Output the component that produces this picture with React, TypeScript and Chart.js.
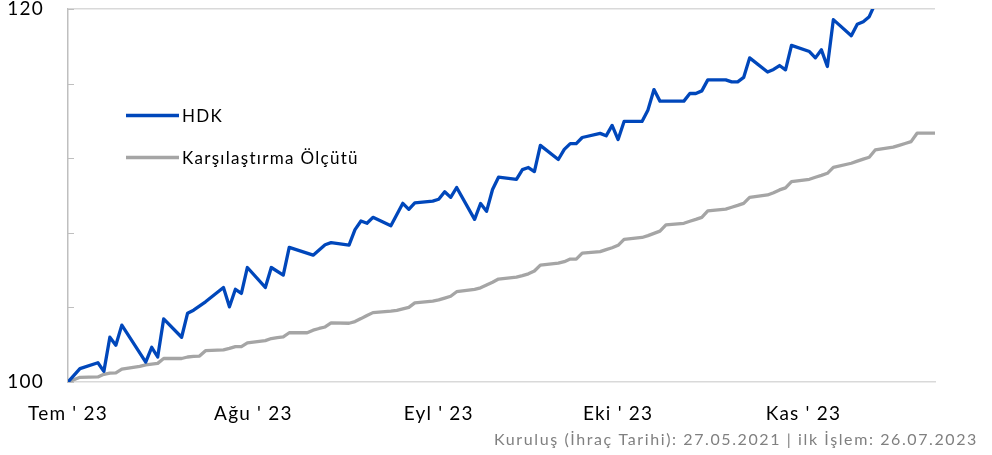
import React, { useEffect, useRef } from 'react';
import { Chart, registerables } from 'chart.js';

Chart.register(...registerables);

// Days since 26.07.2023 (first trading day shown)
const hdkDays = [0, 2, 5, 6, 7, 8, 9, 13, 14, 15, 16, 19, 20, 21, 23, 26, 27, 28, 29, 30, 33, 34, 36, 37, 41, 43, 44, 47, 48, 49, 50, 51, 54, 56, 57, 58, 61, 62, 63, 64, 65, 68, 69, 70, 71, 72, 75, 76, 77, 78, 79, 82, 83, 84, 85, 86, 89, 90, 91, 92, 93, 96, 97, 98, 99, 103, 104, 105, 106, 107, 110, 111, 112, 113, 114, 117, 118, 119, 120, 121, 124, 125, 126, 127, 128, 131, 132, 133, 134, 135, 138, 139, 140, 141, 142];
const hdkValues = [100.0, 100.72, 101.03, 100.57, 102.4, 101.97, 103.05, 101.07, 101.86, 101.34, 103.38, 102.4, 103.69, 103.85, 104.3, 105.07, 104.03, 104.97, 104.75, 106.14, 105.07, 106.14, 105.73, 107.22, 106.8, 107.36, 107.47, 107.34, 108.17, 108.63, 108.51, 108.83, 108.38, 109.58, 109.26, 109.6, 109.7, 109.8, 110.2, 109.9, 110.43, 108.72, 109.57, 109.15, 110.32, 110.98, 110.87, 111.39, 111.5, 111.28, 112.69, 111.93, 112.47, 112.78, 112.78, 113.11, 113.33, 113.2, 113.76, 113.0, 113.97, 113.97, 114.59, 115.68, 115.06, 115.06, 115.47, 115.47, 115.61, 116.2, 116.2, 116.09, 116.09, 116.33, 117.38, 116.62, 116.76, 116.97, 116.74, 118.05, 117.72, 117.38, 117.81, 116.92, 119.43, 118.57, 119.18, 119.32, 119.59, 120.3, 120.7, 120.6, 120.9, 121.1, 121.3];

const benchDays = [0, 2, 5, 6, 7, 8, 9, 12, 13, 14, 15, 16, 19, 20, 21, 22, 23, 26, 27, 28, 29, 30, 33, 34, 35, 36, 37, 40, 41, 42, 43, 44, 47, 48, 49, 50, 51, 54, 55, 56, 57, 58, 61, 62, 63, 64, 65, 68, 69, 70, 71, 72, 75, 76, 77, 78, 79, 82, 83, 84, 85, 86, 89, 90, 91, 92, 93, 96, 97, 98, 99, 100, 103, 104, 105, 106, 107, 110, 111, 112, 113, 114, 117, 118, 119, 120, 121, 124, 125, 126, 127, 128, 131, 132, 133, 134, 135, 138, 139, 140, 141, 142, 145];
const benchValues = [100.0, 100.25, 100.27, 100.41, 100.48, 100.49, 100.69, 100.84, 100.92, 100.96, 101.0, 101.26, 101.26, 101.34, 101.37, 101.39, 101.68, 101.72, 101.8, 101.9, 101.9, 102.1, 102.22, 102.33, 102.38, 102.42, 102.64, 102.64, 102.78, 102.87, 102.95, 103.17, 103.15, 103.24, 103.4, 103.57, 103.72, 103.8, 103.84, 103.92, 104.0, 104.24, 104.34, 104.4, 104.5, 104.6, 104.84, 104.97, 105.05, 105.2, 105.35, 105.52, 105.62, 105.7, 105.8, 105.95, 106.27, 106.37, 106.45, 106.59, 106.59, 106.91, 106.99, 107.1, 107.2, 107.33, 107.65, 107.75, 107.85, 107.97, 108.09, 108.42, 108.51, 108.62, 108.72, 108.83, 109.17, 109.27, 109.37, 109.47, 109.58, 109.9, 110.03, 110.15, 110.3, 110.41, 110.74, 110.87, 110.98, 111.08, 111.19, 111.51, 111.73, 111.84, 111.95, 112.05, 112.44, 112.59, 112.69, 112.79, 112.89, 113.34, 113.34];

const monthTickDays = [0, 31, 62, 92, 123];
const monthLabels = ["Tem ' 23", "Ağu ' 23", "Eyl ' 23", "Eki ' 23", "Kas ' 23"];
const yLabelValues = [100, 120];
const seriesNames = ['HDK', 'Karşılaştırma Ölçütü'];
const footerText = 'Kuruluş (İhraç Tarihi): 27.05.2021 | ilk İşlem: 26.07.2023';

const FONT = 'Lato, "Open Sans", sans-serif';

const overlayPlugin = {
  id: 'overlay',
  beforeDraw(chart: any) {
    chart.ctx.letterSpacing = '1.2px';
  },
  afterDraw(chart: any) {
    const { ctx, chartArea } = chart;
    ctx.letterSpacing = '0px';
    ctx.save();
    // y tick marks (inward)
    const yScale = chart.scales.y;
    ctx.strokeStyle = '#bfbfbf';
    ctx.lineWidth = 1;
    yScale.ticks.forEach((t: any) => {
      const py = Math.round(yScale.getPixelForValue(t.value)) + 0.5;
      ctx.beginPath();
      ctx.moveTo(chartArea.left - 1, py);
      ctx.lineTo(chartArea.left + 6, py);
      ctx.stroke();
    });
    // legend
    const legendYs = [chartArea.top + 106.5, chartArea.top + 148.5];
    chart.data.datasets.forEach((ds: any, i: number) => {
      const y = legendYs[i];
      ctx.strokeStyle = ds.borderColor;
      ctx.lineWidth = 3.3;
      ctx.lineCap = 'butt';
      ctx.beginPath();
      ctx.moveTo(chartArea.left + 58, y);
      ctx.lineTo(chartArea.left + 111, y);
      ctx.stroke();
      ctx.fillStyle = '#000000';
      ctx.font = `17px ${FONT}`;
      ctx.letterSpacing = '1.3px';
      ctx.textAlign = 'left';
      ctx.textBaseline = 'middle';
      ctx.fillText(ds.label, chartArea.left + 114, y + 1);
    });
    // footer
    ctx.fillStyle = '#808080';
    ctx.font = `16px ${FONT}`;
    ctx.letterSpacing = '1.6px';
    ctx.textAlign = 'left';
    ctx.textBaseline = 'alphabetic';
    const w = ctx.measureText(footerText).width;
    ctx.fillText(footerText, chart.width - 14 - w, chart.height - 10);
    ctx.restore();
  },
};

export default function App() {
  const canvasRef = useRef<HTMLCanvasElement | null>(null);

  useEffect(() => {
    document.body.style.margin = '0';
    const canvas = canvasRef.current;
    if (!canvas) return;
    const chart = new Chart(canvas, {
      type: 'line',
      data: {
        datasets: [
          {
            label: seriesNames[0],
            data: hdkDays.map((d, i) => ({ x: d, y: hdkValues[i] })),
            borderColor: '#0047BB',
            borderWidth: 3.3,
            pointRadius: 0,
            tension: 0,
            borderJoinStyle: 'round',
            borderCapStyle: 'round',
            fill: false,
          },
          {
            label: seriesNames[1],
            data: benchDays.map((d, i) => ({ x: d, y: benchValues[i] })),
            borderColor: '#A5A5A5',
            borderWidth: 3.3,
            pointRadius: 0,
            tension: 0,
            borderJoinStyle: 'round',
            borderCapStyle: 'round',
            fill: false,
          },
        ],
      },
      options: {
        responsive: false,
        animation: false,
        events: [],
        layout: { padding: { top: 9, right: 57, bottom: 0, left: 0 } },
        plugins: {
          legend: { display: false },
          tooltip: { enabled: false },
          title: { display: false },
        },
        scales: {
          x: {
            type: 'linear',
            min: 0,
            max: 145,
            grid: { display: false, drawTicks: false },
            border: { display: true, color: '#d9d9d9', width: 1.5 },
            afterBuildTicks: (scale: any) => {
              scale.ticks = monthTickDays.map((v) => ({ value: v }));
            },
            afterFit: (scale: any) => {
              scale.height = 73;
              scale.paddingLeft = 0;
              scale.paddingRight = 0;
            },
            ticks: {
              autoSkip: false,
              maxRotation: 0,
              minRotation: 0,
              padding: 20,
              color: '#000000',
              font: { family: FONT, size: 19 },
              callback: (value: any) => {
                const idx = monthTickDays.indexOf(Number(value));
                return idx >= 0 ? monthLabels[idx] : '';
              },
            },
          },
          y: {
            type: 'linear',
            min: 100,
            max: 120,
            grid: {
              display: true,
              drawTicks: false,
              lineWidth: 1.5,
              color: (c: any) => (c.tick && c.tick.value === 120 ? '#d9d9d9' : 'rgba(0,0,0,0)'),
            },
            border: { display: true, color: '#bfbfbf', width: 1.5 },
            afterFit: (scale: any) => {
              scale.width = 68;
              scale.paddingTop = 0;
              scale.paddingBottom = 0;
            },
            ticks: {
              stepSize: 4,
              padding: 24,
              color: '#000000',
              font: { family: FONT, size: 19 },
              callback: (value: any) => (yLabelValues.includes(Number(value)) ? String(value) : ''),
            },
          },
        },
      },
      plugins: [overlayPlugin],
    });
    return () => chart.destroy();
  }, []);

  return (
    <div style={{ position: 'relative', width: 992, height: 455 }}>
      <canvas ref={canvasRef} width={992} height={455} style={{ display: 'block' }} />
    </div>
  );
}
